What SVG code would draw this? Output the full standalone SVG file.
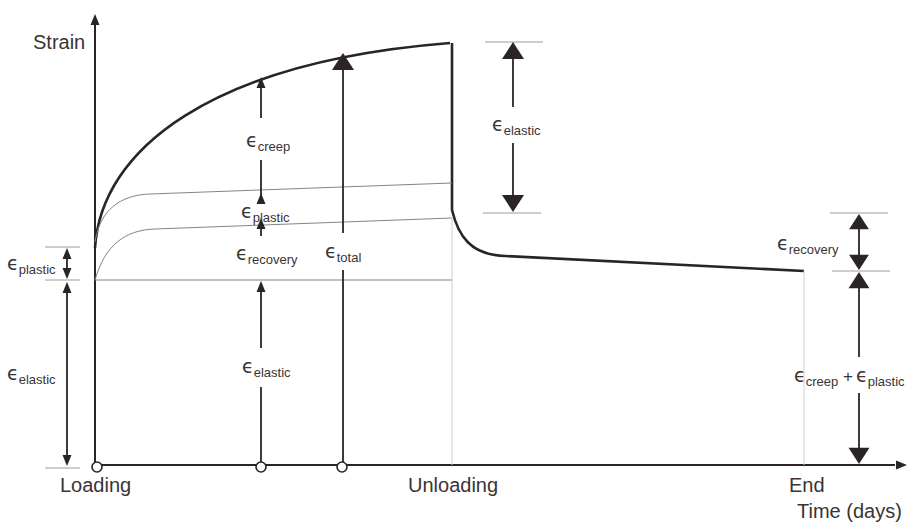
<svg xmlns="http://www.w3.org/2000/svg" xmlns:xlink="http://www.w3.org/1999/xlink" width="908" height="522" viewBox="0 0 908 522">
<style>
.bg{fill:#fff}
.ax{stroke:#2a2424;stroke-width:2;fill:none}
.thick{stroke:#2a2424;stroke-width:2.6;fill:none}
.thin{stroke:#8a8080;stroke-width:1;fill:none}
.faint{stroke:#d0cccc;stroke-width:1;fill:none}
.tick{stroke:#a09a9a;stroke-width:1}
.dim{stroke:#2a2424;stroke-width:1.8;fill:none}
.ah{fill:#2a2424}
.lbl{font-family:"Liberation Sans",Arial,sans-serif;font-size:20px;fill:#3a3434}
.e{font-family:"DejaVu Sans","Noto Sans",sans-serif;font-size:19px;fill:#3a3434}
.s{font-family:"Liberation Sans",Arial,sans-serif;font-size:13px;fill:#3a3434}
.p{font-family:"Liberation Sans",Arial,sans-serif;font-size:17px;fill:#3a3434}
.pt{fill:#fff;stroke:#2a2424;stroke-width:1.6}
</style>
<defs>
<path id="hs" d="M0,0 L-4.5,11 L4.5,11 Z"/>
<path id="hl" d="M0,0 L-11,17 L11,17 Z"/>
</defs>
<rect class="bg" width="908" height="522"/>

<g id="axes">
<line class="ax" x1="95" y1="465" x2="95" y2="24"/>
<use href="#hs" class="ah" transform="translate(95,14)"/>
<line class="ax" x1="95" y1="465" x2="895" y2="465"/>
<use href="#hs" class="ah" transform="translate(907,465) rotate(90)"/>
<text class="lbl" x="33" y="49">Strain</text>
<text class="lbl" x="797" y="518">Time (days)</text>
</g>

<g id="curves">
<path class="thick" d="M95,248 C101,150 210,62 450,43"/>
<path class="thick" d="M452,43 L452,210 C458,235 470,255 505,256 L804,271"/>
<path class="thin" d="M95,242 C100,210 120,195 150,194 L452,183"/>
<path class="thin" d="M95,280 C105,245 125,230 155,229 L452,218"/>
<line class="thin" x1="95" y1="280" x2="452" y2="280"/>
<line class="faint" x1="452" y1="218" x2="452" y2="465"/>
<line class="faint" x1="804" y1="271" x2="804" y2="465"/>
</g>

<g id="points">
<g id="loading"><circle class="pt" cx="97" cy="467" r="5"/><text class="lbl" x="60" y="492">Loading</text></g>
<circle class="pt" cx="261" cy="467" r="5"/>
<circle class="pt" cx="342" cy="467" r="5"/>
<g id="unloading"><text class="lbl" x="408" y="492">Unloading</text></g>
<g id="end"><text class="lbl" x="789" y="492">End</text></g>
</g>

<g id="connectors">
<line class="tick" x1="45" y1="247" x2="80" y2="247"/>
<line class="tick" x1="45" y1="280" x2="80" y2="280"/>
<line class="tick" x1="45" y1="468" x2="80" y2="468"/>
<line class="dim" x1="67" y1="255" x2="67" y2="272"/>
<use href="#hs" class="ah" transform="translate(67,248)"/>
<use href="#hs" class="ah" transform="translate(67,279) rotate(180)"/>
<line class="dim" x1="67" y1="290" x2="67" y2="458"/>
<use href="#hs" class="ah" transform="translate(67,282)"/>
<use href="#hs" class="ah" transform="translate(67,466) rotate(180)"/>

<line class="dim" x1="261" y1="85" x2="261" y2="118"/>
<use href="#hs" class="ah" transform="translate(261,77)"/>
<line class="dim" x1="261" y1="160" x2="261" y2="204"/>
<use href="#hs" class="ah" transform="translate(261,193)"/>
<line class="dim" x1="261" y1="225" x2="261" y2="236"/>
<use href="#hs" class="ah" transform="translate(261,218)"/>
<line class="dim" x1="261" y1="288" x2="261" y2="348"/>
<use href="#hs" class="ah" transform="translate(261,281)"/>
<line class="dim" x1="261" y1="387" x2="261" y2="462"/>

<line class="dim" x1="343" y1="68" x2="343" y2="233"/>
<use href="#hl" class="ah" transform="translate(343,53)"/>
<line class="dim" x1="343" y1="270" x2="343" y2="462"/>

<line class="tick" x1="485" y1="42" x2="543" y2="42"/>
<line class="tick" x1="483" y1="213" x2="541" y2="213"/>
<line class="dim" x1="513" y1="56" x2="513" y2="107"/>
<use href="#hl" class="ah" transform="translate(513,42)"/>
<line class="dim" x1="513" y1="143" x2="513" y2="199"/>
<use href="#hl" class="ah" transform="translate(513,212) rotate(180)"/>

<line class="tick" x1="830" y1="213" x2="888" y2="213"/>
<line class="tick" x1="832" y1="271" x2="890" y2="271"/>
<line class="dim" x1="859" y1="228" x2="859" y2="258"/>
<use href="#hl" class="ah" transform="translate(859,214) scale(0.9)"/>
<use href="#hl" class="ah" transform="translate(859,270) rotate(180) scale(0.9)"/>

<line class="dim" x1="859" y1="286" x2="859" y2="357"/>
<use href="#hl" class="ah" transform="translate(859,272) scale(0.95)"/>
<line class="dim" x1="859" y1="393" x2="859" y2="450"/>
<use href="#hl" class="ah" transform="translate(859,464) rotate(180) scale(0.95)"/>
</g>

<g id="labels">
<text x="246" y="147"><tspan class="e">ϵ</tspan><tspan class="s" dy="4">creep</tspan></text>
<text x="241" y="218"><tspan class="e">ϵ</tspan><tspan class="s" dy="4">plastic</tspan></text>
<text x="236" y="260"><tspan class="e">ϵ</tspan><tspan class="s" dy="4">recovery</tspan></text>
<text x="325" y="258"><tspan class="e">ϵ</tspan><tspan class="s" dy="4">total</tspan></text>
<text x="7" y="270"><tspan class="e">ϵ</tspan><tspan class="s" dy="4">plastic</tspan></text>
<text x="7" y="380"><tspan class="e">ϵ</tspan><tspan class="s" dy="4">elastic</tspan></text>
<text x="242" y="373"><tspan class="e">ϵ</tspan><tspan class="s" dy="4">elastic</tspan></text>
<text x="492" y="131"><tspan class="e">ϵ</tspan><tspan class="s" dy="4">elastic</tspan></text>
<text x="777" y="250"><tspan class="e">ϵ</tspan><tspan class="s" dy="4">recovery</tspan></text>
<text x="794" y="382"><tspan class="e">ϵ</tspan><tspan class="s" dy="4">creep</tspan><tspan class="p" dy="-4" x="843">+</tspan><tspan class="e" x="856">ϵ</tspan><tspan class="s" dy="4">plastic</tspan></text>
</g>
</svg>
